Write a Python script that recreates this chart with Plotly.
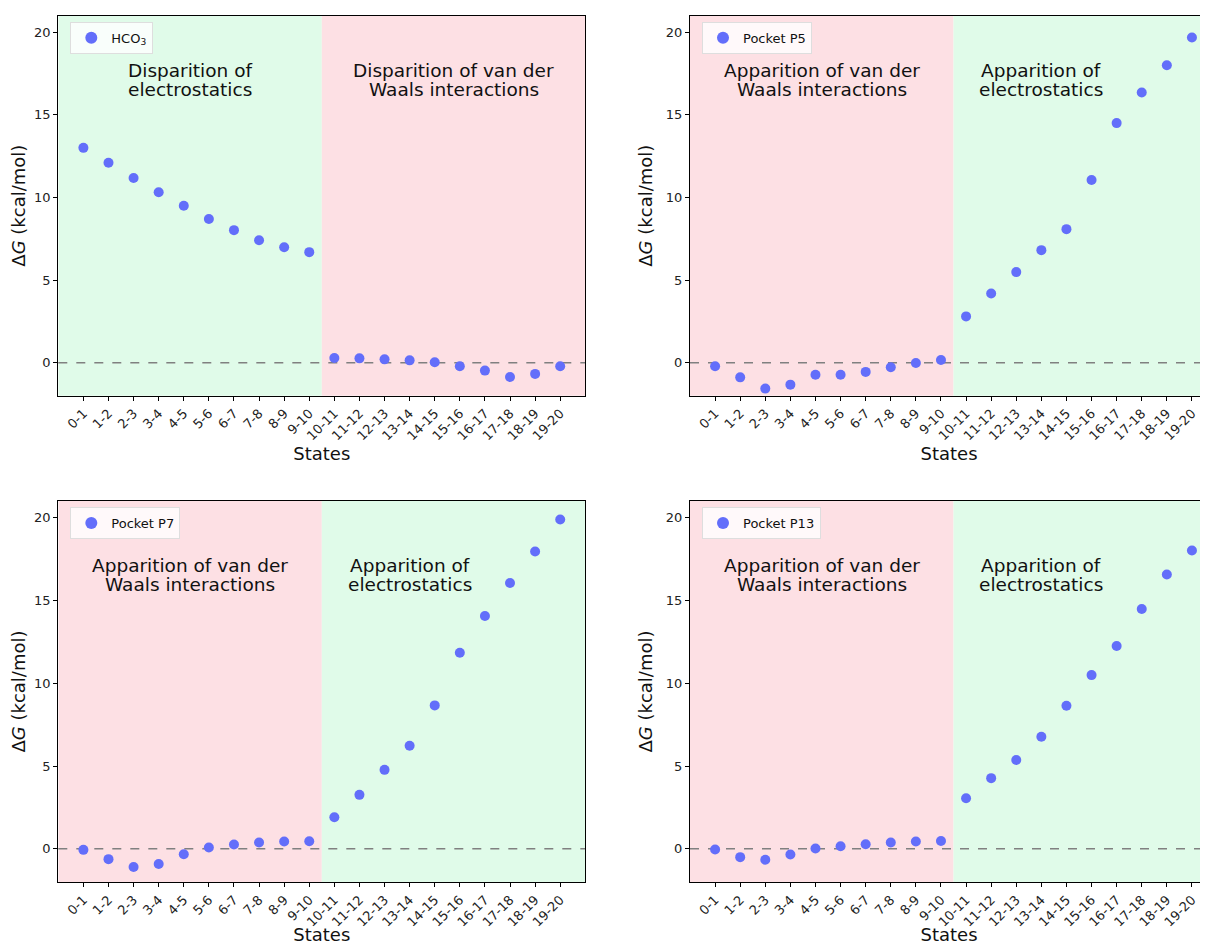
import plotly.graph_objects as go

states = ["0-1", "1-2", "2-3", "3-4", "4-5", "5-6", "6-7", "7-8", "8-9", "9-10",
          "10-11", "11-12", "12-13", "13-14", "14-15", "15-16", "16-17", "17-18", "18-19", "19-20"]

hco3 = [13.0, 12.1, 11.18, 10.31, 9.5, 8.7, 8.02, 7.41, 6.99, 6.69,
        0.28, 0.26, 0.2, 0.14, 0.02, -0.22, -0.48, -0.87, -0.68, -0.22]
p5 = [-0.22, -0.89, -1.57, -1.33, -0.73, -0.73, -0.56, -0.28, -0.02, 0.16,
      2.8, 4.19, 5.48, 6.81, 8.08, 11.06, 14.5, 16.35, 18.0, 19.68]
p7 = [-0.06, -0.62, -1.09, -0.91, -0.32, 0.08, 0.26, 0.38, 0.44, 0.46,
      1.91, 3.26, 4.77, 6.22, 8.66, 11.84, 14.06, 16.05, 17.95, 19.88]
p13 = [-0.04, -0.5, -0.66, -0.34, 0.02, 0.16, 0.28, 0.38, 0.44, 0.48,
       3.06, 4.27, 5.36, 6.77, 8.64, 10.49, 12.25, 14.48, 16.56, 18.01]

series_names = ["HCO<sub>3</sub>", "Pocket P5", "Pocket P7", "Pocket P13"]
series_values = [hco3, p5, p7, p13]

texts = [
    (["Disparition of", "electrostatics"], ["Disparition of van der", "Waals interactions"]),
    (["Apparition of van der", "Waals interactions"], ["Apparition of", "electrostatics"]),
    (["Apparition of van der", "Waals interactions"], ["Apparition of", "electrostatics"]),
    (["Apparition of van der", "Waals interactions"], ["Apparition of", "electrostatics"]),
]

OFF = 8  # page body margin
W, H = 1208 - OFF, 945 - OFF
FONT = "DejaVu Sans"
GREEN = "rgb(224,251,233)"
PINK = "rgb(253,224,228)"
MARK = "rgb(99,110,250)"

# panel pixel boxes in page coords: (left, right, top, bottom)
boxes = [(58.3, 585.3, 15.7, 395.7), (690, 1208, 15.7, 395.7),
         (58.3, 585.3, 501, 882), (690, 1208, 501, 882)]
left_green = [True, False, False, False]
xranges = [[-1, 20], [-1, 19.64], [-1, 20], [-1, 19.64]]
text_x = [(4.25, 14.75), (4.25, 13.0), (4.25, 13.0), (4.25, 13.0)]
text_y = [(17.66, 16.51), (17.66, 16.51), (17.12, 15.97), (17.12, 15.97)]

fig = go.Figure()
layout = dict(width=W, height=H, margin=dict(l=0, r=0, t=0, b=0),
              paper_bgcolor="white", plot_bgcolor="rgba(0,0,0,0)",
              font=dict(family=FONT, color="#111"), showlegend=True)
shapes = []
annotations = []

for i, (name, vals) in enumerate(zip(series_names, series_values)):
    n = "" if i == 0 else str(i + 1)
    xa, ya = "x" + n, "y" + n
    leg = "legend" + n
    l, r, t, b = [v - OFF for v in boxes[i]]
    fig.add_trace(go.Scatter(x=list(range(len(states))), y=vals, mode="markers",
                             name=name, xaxis=xa, yaxis=ya, legend=leg,
                             marker=dict(color=MARK, size=10)))
    layout["xaxis" + n] = dict(
        domain=[l / W, min(r / W, 1)], anchor=ya, range=xranges[i],
        tickmode="array", tickvals=list(range(len(states))), ticktext=states,
        tickangle=-45, tickfont=dict(size=13, family=FONT, color="#222"),
        ticks="outside", ticklen=4, tickcolor="black",
        showline=True, linecolor="black", linewidth=1.2, mirror=True,
        showgrid=False, zeroline=False,
        title=dict(text="States", font=dict(size=18, family=FONT, color="#111"), standoff=4))
    layout["yaxis" + n] = dict(
        domain=[1 - b / H, 1 - t / H], anchor=xa, range=[-2, 21],
        tickvals=[0, 5, 10, 15, 20], tickfont=dict(size=13, family=FONT, color="#222"),
        ticks="outside", ticklen=4, tickcolor="black",
        showline=True, linecolor="black", linewidth=1.2, mirror=True,
        showgrid=False, zeroline=False,
        title=dict(text="Δ<i>G</i> (kcal/mol)", font=dict(size=18, family=FONT, color="#111"), standoff=8))
    c1, c2 = (GREEN, PINK) if left_green[i] else (PINK, GREEN)
    shapes.append(dict(type="rect", xref=xa, yref=ya + " domain", x0=-1, x1=9.5, y0=0, y1=1,
                       fillcolor=c1, line=dict(width=0), layer="below"))
    shapes.append(dict(type="rect", xref=xa, yref=ya + " domain", x0=9.5, x1=20, y0=0, y1=1,
                       fillcolor=c2, line=dict(width=0), layer="below"))
    shapes.append(dict(type="line", xref=xa + " domain", yref=ya, x0=0, x1=1, y0=0, y1=0,
                       line=dict(color="rgb(128,128,128)", width=1.5, dash="dash"), layer="below"))
    for k in range(2):
        for j in range(2):
            annotations.append(dict(xref=xa, yref=ya, x=text_x[i][k], y=text_y[i][j],
                                    text=texts[i][k][j], showarrow=False,
                                    xanchor="center", yanchor="middle",
                                    font=dict(size=18.5, family=FONT, color="#111")))
    layout[leg] = dict(x=(l + 12) / W, y=1 - (t + 6) / H, xanchor="left", yanchor="top",
                       bgcolor="rgba(255,255,255,0.8)", bordercolor="rgb(222,222,222)",
                       borderwidth=1, font=dict(size=13, family=FONT, color="#111"),
                       itemsizing="constant", itemwidth=30)

layout["shapes"] = shapes
layout["annotations"] = annotations
fig.update_layout(**layout)
fig.write_html("out.html")
